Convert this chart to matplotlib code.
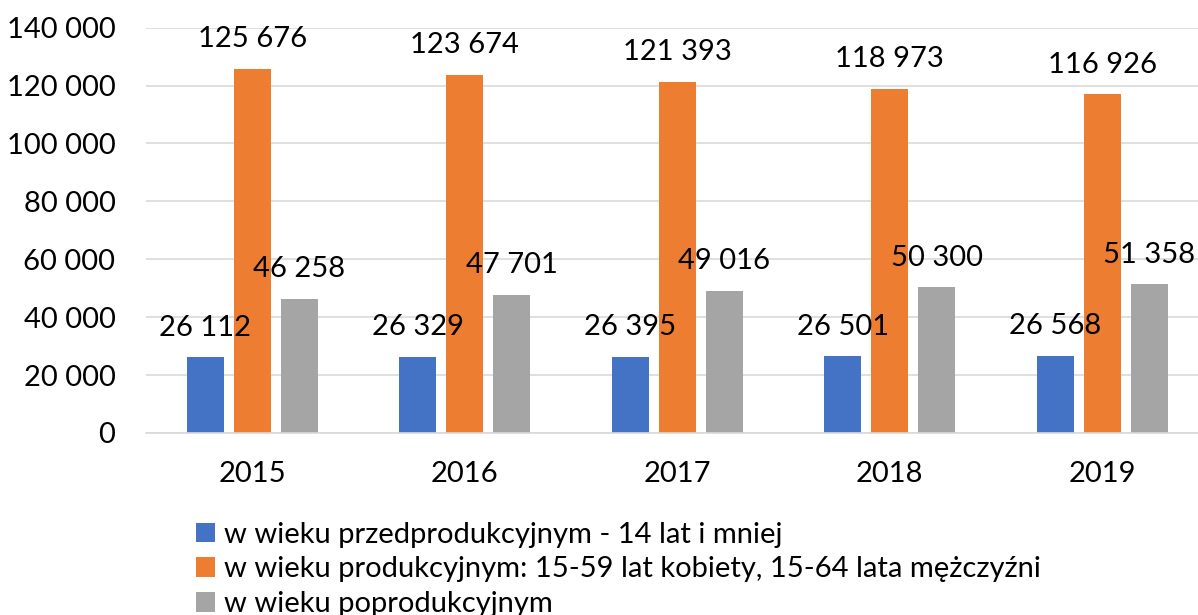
import matplotlib.pyplot as plt
import numpy as np

years = ["2015", "2016", "2017", "2018", "2019"]
przed = [26112, 26329, 26395, 26501, 26568]
prod = [125676, 123674, 121393, 118973, 116926]
poprod = [46258, 47701, 49016, 50300, 51358]
series_names = [
    "w wieku przedprodukcyjnym - 14 lat i mniej",
    "w wieku produkcyjnym: 15-59 lat kobiety, 15-64 lata mężczyźni",
    "w wieku poprodukcyjnym",
]
colors = ["#4472C4", "#ED7D31", "#A5A5A5"]

plt.rcParams['font.family'] = ['Lato', 'DejaVu Sans']
FS = 21


def fmt(v):
    return "{:,}".format(v).replace(",", " ")


fig = plt.figure(figsize=(11.98, 6.15), dpi=100)
# axis runs a little past the right edge, as in the original
ax = fig.add_axes([0.1219, 0.296, 0.887, 0.659])

x = np.arange(len(years))
w = 0.174
step = 0.221
for i, (vals, name) in enumerate(zip([przed, prod, poprod], series_names)):
    pos = x + (i - 1) * step
    ax.bar(pos, vals, width=w, color=colors[i], label=name, zorder=2)
    for p, v in zip(pos, vals):
        ax.annotate(fmt(v), (p, v), xytext=(0, 12), textcoords="offset points",
                    ha="center", va="bottom", fontsize=FS, color="black",
                    zorder=3)

ax.set_xlim(-0.5, 4.5)
ax.set_ylim(0, 140000)
ax.set_yticks(range(0, 140001, 20000))
ax.set_yticklabels([fmt(v) for v in range(0, 140001, 20000)])
ax.set_xticks(x)
ax.set_xticklabels(years)
ax.tick_params(length=0, labelsize=FS)
ax.tick_params(axis="x", pad=20)
ax.tick_params(axis="y", pad=22)
ax.grid(axis="y", color="#D9D9D9", linewidth=1.2, zorder=0)
ax.set_axisbelow(True)
for s in ["top", "right", "left"]:
    ax.spines[s].set_visible(False)
ax.spines["bottom"].set_color("#D9D9D9")
ax.spines["bottom"].set_linewidth(1.2)

leg = ax.legend(loc="upper left", bbox_to_anchor=(0.036, -0.19), frameon=False,
                fontsize=FS, handlelength=0.65, handleheight=0.65,
                handletextpad=0.3, labelspacing=0.3, borderaxespad=0)

fig.savefig("out.png", dpi=100)
